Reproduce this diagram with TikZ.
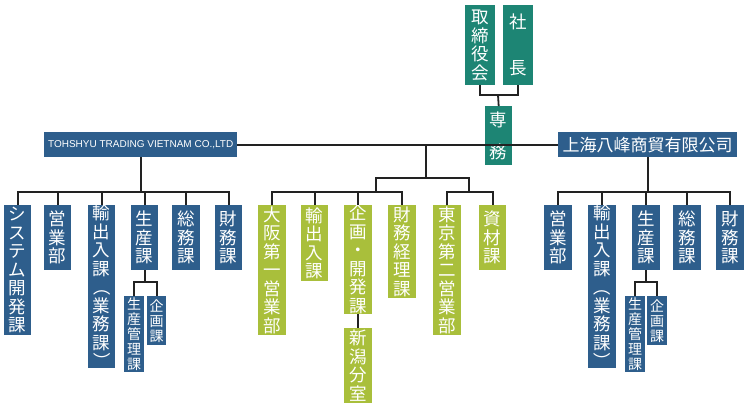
\documentclass[tikz,border=0pt]{standalone}
\usepackage{fontspec}
\usepackage{graphicx}
\setmainfont{Noto Sans CJK JP}[BoldFont={Noto Sans CJK JP Medium}]
\newfontfamily\latinf{Liberation Sans}
\definecolor{cblue}{HTML}{2E5E8C}
\definecolor{cteal}{HTML}{1D8574}
\definecolor{cgreen}{HTML}{A9BF3B}
\definecolor{cline}{HTML}{222222}
\newcommand{\lp}{\smash{\rotatebox[origin=c]{-90}{（}}}
\newcommand{\rp}{\smash{\rotatebox[origin=c]{-90}{）}}}
\begin{document}
\begin{tikzpicture}[x=1pt,y=-1pt,
  bx/.style={anchor=north west,inner sep=0pt,text=white,align=center,
    font=\fontsize{17.5}{18.5}\selectfont},
  sm/.style={bx,font=\fontsize{14}{15}\selectfont},
  B/.style={fill=cblue},T/.style={fill=cteal},G/.style={fill=cgreen},
  ln/.style={draw=cline,line width=1.8pt}]
\useasboundingbox (0,0) rectangle (749,408);
% top
\node[bx,T,minimum width=30,minimum height=80] (tori) at (465,5) {取\\締\\役\\会};
\node[bx,T,minimum width=30,minimum height=80,font=\fontsize{17.5}{46}\selectfont] (sha) at (503,5) {社\\長};
\node[bx,T,minimum width=27,minimum height=59,font=\fontsize{17.5}{32}\selectfont] (sen) at (485,106) {専\\務};
\coordinate (j) at (498,95);
\draw[ln] (tori.south) |- (j) -| (sha.south);
\draw[ln] (j) -- (sen.north);
% companies
\node[bx,B,minimum width=193,minimum height=25,font=\latinf\fontsize{10}{12}\selectfont] (tv) at (44,132) {TOHSHYU TRADING VIETNAM CO.,LTD};
\node[bx,B,minimum width=179,minimum height=25,font=\fontsize{17}{18}\selectfont] (sh) at (558,132) {上海八峰商貿有限公司};
\draw[ln] (tv.east) -- (sh.west);
\coordinate (mid) at (426,145);
% Vietnam children
\node[bx,B,minimum width=27,minimum height=130] (v1) at (4,205) {シ\\ス\\テ\\ム\\開\\発\\課};
\node[bx,B,minimum width=27,minimum height=65] (v2) at (44,205) {営\\業\\部};
\node[bx,B,minimum width=27,minimum height=133] (v3) at (88,205) {輸\\出\\入\\課\\\lp\\業\\務\\課\\\rp};
\node[bx,B,minimum width=27,minimum height=65] (v4) at (131,205) {生\\産\\課};
\node[bx,B,minimum width=28,minimum height=65] (v5) at (172,205) {総\\務\\課};
\node[bx,B,minimum width=27,minimum height=65] (v6) at (215,205) {財\\務\\課};
\node[sm,B,minimum width=20,minimum height=76] (v41) at (124,296) {生\\産\\管\\理\\課};
\node[sm,B,minimum width=19,minimum height=49] (v42) at (147,296) {企\\画\\課};
\foreach \c in {v1,v2,v3,v4,v5,v6} \draw[ln] (tv.south) |- (\c.north |- 0,192) -- (\c.north);
\foreach \c in {v41,v42} \draw[ln] (v4.south) |- (\c.north |- 0,282) -- (\c.north);
% Shanghai children
\node[bx,B,minimum width=28,minimum height=65] (s1) at (544,205) {営\\業\\部};
\node[bx,B,minimum width=28,minimum height=133] (s2) at (588,205) {輸\\出\\入\\課\\\lp\\業\\務\\課\\\rp};
\node[bx,B,minimum width=28,minimum height=65] (s3) at (632,205) {生\\産\\課};
\node[bx,B,minimum width=28,minimum height=65] (s4) at (673,205) {総\\務\\課};
\node[bx,B,minimum width=28,minimum height=65] (s5) at (716,205) {財\\務\\課};
\node[sm,B,minimum width=20,minimum height=76] (s31) at (625,296) {生\\産\\管\\理\\課};
\node[sm,B,minimum width=20,minimum height=49] (s32) at (647,296) {企\\画\\課};
\foreach \c in {s1,s2,s3,s4,s5} \draw[ln] (sh.south) |- (\c.north |- 0,192) -- (\c.north);
\foreach \c in {s31,s32} \draw[ln] (s3.south) |- (\c.north |- 0,282) -- (\c.north);
% Japan children
\node[bx,G,minimum width=28,minimum height=130] (j1) at (258,205) {大\\阪\\第\\一\\営\\業\\部};
\node[bx,G,minimum width=27,minimum height=76] (j2) at (301,205) {輸\\出\\入\\課};
\node[bx,G,minimum width=28,minimum height=106] (j3) at (344,205) {企\\画\\・\\開\\発\\課};
\node[bx,G,minimum width=28,minimum height=93] (j4) at (388,205) {財\\務\\経\\理\\課};
\node[bx,G,minimum width=28,minimum height=130] (j5) at (433,205) {東\\京\\第\\二\\営\\業\\部};
\node[bx,G,minimum width=27,minimum height=65] (j6) at (479,205) {資\\材\\課};
\node[bx,G,minimum width=28,minimum height=75] (j31) at (344,328) {新\\潟\\分\\室};
\coordinate (ga) at (376,192);
\coordinate (gb) at (469,192);
\draw[ln] (mid) |- (376,178) -- (ga);
\draw[ln] (mid) |- (469,178) -- (gb);
\foreach \c in {j1,j2,j3,j4} \draw[ln] (ga) -- (\c.north |- ga) -- (\c.north);
\foreach \c in {j5,j6} \draw[ln] (gb) -- (\c.north |- gb) -- (\c.north);
\draw[ln] (j3.south) -- (j31.north);
\end{tikzpicture}
\end{document}
